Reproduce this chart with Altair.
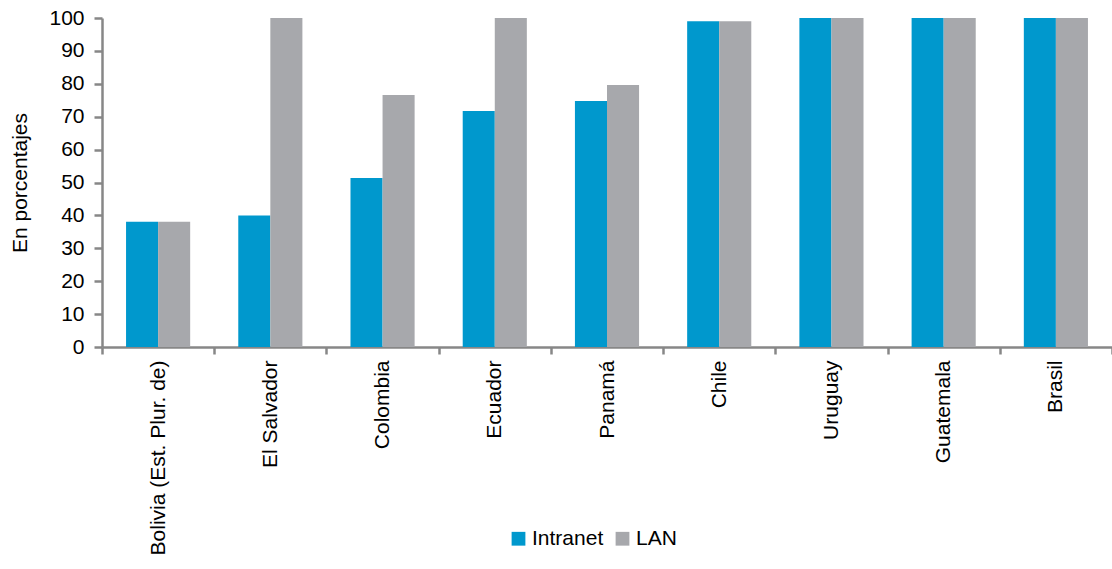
import altair as alt
import pandas as pd

paises = ["Bolivia (Est. Plur. de)", "El Salvador", "Colombia", "Ecuador",
          "Panamá", "Chile", "Uruguay", "Guatemala", "Brasil"]
intranet = [38.1, 40.0, 51.4, 71.7, 74.8, 99.0, 100.0, 100.0, 100.0]
lan = [38.1, 100.0, 76.6, 100.0, 79.6, 99.0, 100.0, 100.0, 100.0]
series = ["Intranet", "LAN"]
colores = ["#0098CD", "#A7A8AC"]

rows = []
for p, a, b in zip(paises, intranet, lan):
    rows.append({"pais": p, "serie": "Intranet", "valor": a})
    rows.append({"pais": p, "serie": "LAN", "valor": b})
df = pd.DataFrame(rows)

FONT = "Liberation Sans"
AXIS_GRAY = "#878787"
FS = 21

chart = alt.Chart(df).mark_bar().encode(
    x=alt.X("pais:N", sort=paises, title=None,
            scale=alt.Scale(paddingInner=0, paddingOuter=0),
            axis=alt.Axis(labelAngle=270, labelAlign="right", labelBaseline="middle",
                          labelFontSize=FS, labelFont=FONT, labelColor="#000000",
                          labelPadding=6, tickBand="extent", tickSize=7,
                          tickWidth=2.5, tickColor=AXIS_GRAY, domainColor=AXIS_GRAY,
                          domainWidth=2.5, labelLimit=300)),
    xOffset=alt.XOffset("serie:N", sort=series,
                        scale=alt.Scale(paddingInner=0, paddingOuter=0.75)),
    y=alt.Y("valor:Q", title="En porcentajes",
            scale=alt.Scale(domain=[0, 100], nice=False),
            axis=alt.Axis(values=list(range(0, 101, 10)), grid=False,
                          labelFontSize=FS, labelFont=FONT, labelColor="#000000",
                          labelPadding=10, tickSize=8, tickWidth=2.5,
                          tickColor=AXIS_GRAY, domainColor=AXIS_GRAY, domainWidth=2.5,
                          titleFontSize=FS, titleFont=FONT, titleFontWeight="normal",
                          titleColor="#000000", titlePadding=18)),
    color=alt.Color("serie:N", sort=series, title=None,
                    scale=alt.Scale(domain=series, range=colores),
                    legend=alt.Legend(orient="none", legendX=406, legendY=510,
                                      direction="horizontal", symbolType="square",
                                      symbolSize=190, symbolStrokeWidth=0,
                                      labelFontSize=FS, labelFont=FONT,
                                      labelColor="#000000", columnPadding=8,
                                      labelOffset=3)),
).properties(
    width=1010, height=329,
    autosize=alt.AutoSizeParams(type="none"),
    padding={"left": 102, "top": 18, "right": 0, "bottom": 222},
).configure_view(stroke=None)

chart.save("out.html", embed_options={"renderer": "svg", "actions": False})
